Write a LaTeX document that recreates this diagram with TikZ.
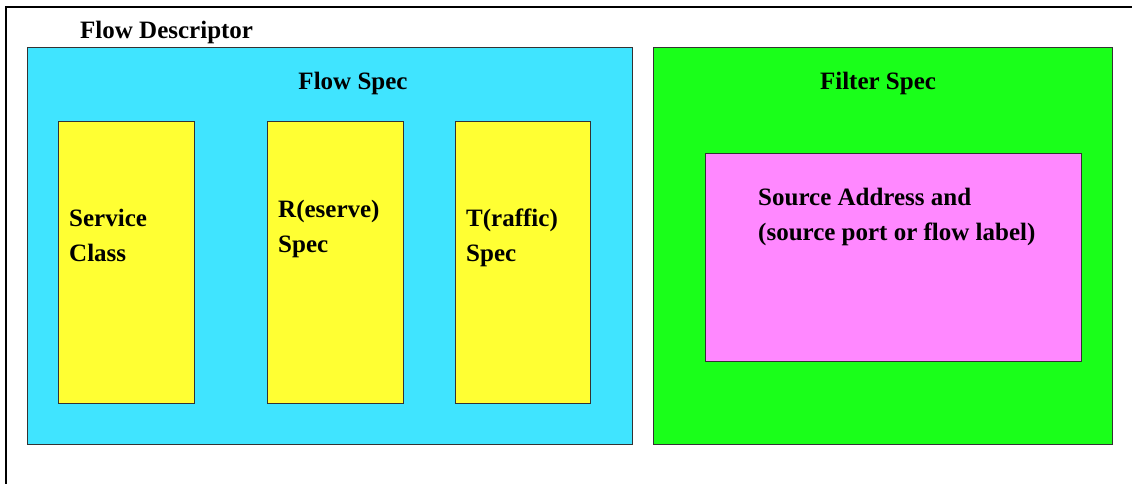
\documentclass[tikz,border=0pt]{standalone}
\usepackage{fontspec}
\setmainfont{Liberation Serif}
\definecolor{flowblue}{HTML}{40E4FF}
\definecolor{filtergreen}{HTML}{1AFF1A}
\definecolor{specyellow}{HTML}{FFFF33}
\definecolor{srcpink}{HTML}{FF88FF}
\definecolor{edgegray}{HTML}{333333}
\begin{document}
\begin{tikzpicture}[x=1pt,y=-1pt,
  panel/.style={draw=edgegray,line width=1pt},
  % multi-line labels: the base anchor sits on the last line
  lbl/.style={inner sep=0pt,anchor=base west,font=\fontsize{25}{35}\selectfont\bfseries,align=left},
  ttl/.style={inner sep=0pt,anchor=base,font=\fontsize{25}{35}\selectfont\bfseries}]
\useasboundingbox (0,0) rectangle (1132,484);
% outer frame, open to the right and bottom
\draw[line width=1.3pt] (6,490) -- (6,7) -- (1140,7);
\node[lbl] (desc) at (80,39) {Flow Descriptor};
% flow spec panel
\draw[panel,fill=flowblue] (27,48) rectangle (632,444);
\node[ttl] (fstitle) at (353,90) {Flow Spec};
\draw[panel,fill=specyellow] (58,122) rectangle (194,403);
\draw[panel,fill=specyellow] (267,122) rectangle (403,403);
\draw[panel,fill=specyellow] (455,122) rectangle (590,403);
\node[lbl] (svc) at (69,261) {Service\\Class};
\node[lbl] (rspec) at (278,252) {R(eserve)\\Spec};
\node[lbl] (tspec) at (466,261) {T(raffic)\\Spec};
% filter spec panel
\draw[panel,fill=filtergreen] (653,48) rectangle (1112,444);
\node[ttl] (fltitle) at (878,90) {Filter Spec};
\draw[panel,fill=srcpink] (705,153) rectangle (1081,361);
\node[lbl] (src) at (758,240) {Source Address and\\(source port or flow label)};
\end{tikzpicture}
\end{document}
